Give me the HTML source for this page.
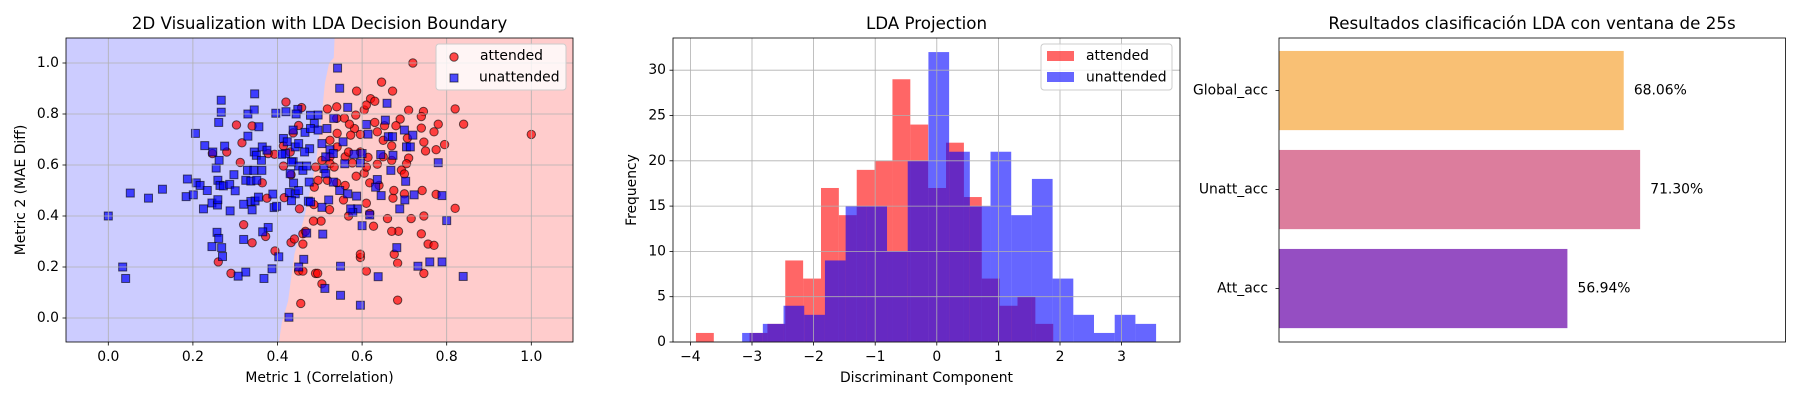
<!DOCTYPE html>
<html><head><meta charset="utf-8"><style>
html,body{margin:0;padding:0;background:#fff;}
svg{display:block;font-family:"DejaVu Sans","Liberation Sans",sans-serif;}
</style></head><body>
<svg id="fig" width="1800" height="400" viewBox="0 0 1800 400" xmlns="http://www.w3.org/2000/svg"></svg>
<script>
// ---------- data ----------
const attended = [[0.72,1.0],[1.0,0.72],[0.646,0.925],[0.587,0.89],[0.672,0.89],[0.62,0.86],[0.63,0.85],[0.82,0.82],[0.71,0.815],[0.745,0.81],[0.84,0.76],[0.78,0.76],[0.74,0.79],[0.69,0.78],[0.74,0.745],[0.77,0.73],[0.795,0.68],[0.775,0.66],[0.75,0.655],[0.746,0.69],[0.707,0.705],[0.67,0.675],[0.71,0.627],[0.705,0.605],[0.693,0.58],[0.7,0.565],[0.742,0.5],[0.775,0.485],[0.82,0.43],[0.746,0.4],[0.716,0.39],[0.74,0.33],[0.756,0.29],[0.77,0.285],[0.746,0.175],[0.684,0.215],[0.676,0.25],[0.684,0.07],[0.686,0.34],[0.67,0.34],[0.66,0.39],[0.627,0.36],[0.673,0.47],[0.7,0.487],[0.675,0.5],[0.64,0.52],[0.61,0.45],[0.618,0.41],[0.596,0.237],[0.596,0.25],[0.61,0.184],[0.503,0.38],[0.485,0.38],[0.46,0.33],[0.466,0.34],[0.46,0.29],[0.45,0.184],[0.46,0.184],[0.49,0.175],[0.495,0.175],[0.505,0.134],[0.455,0.057],[0.486,0.445],[0.523,0.425],[0.54,0.53],[0.56,0.52],[0.568,0.4],[0.556,0.463],[0.586,0.556],[0.605,0.568],[0.618,0.53],[0.614,0.63],[0.636,0.603],[0.65,0.632],[0.67,0.618],[0.65,0.697],[0.636,0.73],[0.596,0.72],[0.582,0.743],[0.573,0.717],[0.57,0.76],[0.558,0.784],[0.54,0.783],[0.54,0.828],[0.518,0.82],[0.585,0.796],[0.605,0.816],[0.61,0.835],[0.63,0.767],[0.653,0.754],[0.68,0.754],[0.541,0.724],[0.524,0.697],[0.541,0.671],[0.524,0.632],[0.56,0.632],[0.505,0.618],[0.49,0.592],[0.524,0.605],[0.518,0.54],[0.496,0.54],[0.487,0.513],[0.534,0.592],[0.577,0.608],[0.568,0.651],[0.596,0.651],[0.61,0.592],[0.42,0.847],[0.457,0.825],[0.303,0.757],[0.34,0.753],[0.316,0.687],[0.28,0.651],[0.246,0.645],[0.312,0.61],[0.364,0.53],[0.375,0.47],[0.416,0.472],[0.452,0.428],[0.34,0.295],[0.372,0.32],[0.32,0.366],[0.26,0.22],[0.29,0.175],[0.394,0.263],[0.432,0.296],[0.44,0.31],[0.414,0.596],[0.432,0.562],[0.393,0.642],[0.45,0.755],[0.414,0.675],[0.43,0.651],[0.437,0.726],[0.378,0.645]];
const unattended = [[0,0.4],[0.034,0.2],[0.041,0.155],[0.052,0.49],[0.095,0.47],[0.128,0.505],[0.187,0.545],[0.184,0.476],[0.201,0.483],[0.208,0.53],[0.217,0.52],[0.234,0.5],[0.225,0.428],[0.245,0.451],[0.258,0.443],[0.259,0.464],[0.259,0.54],[0.264,0.52],[0.272,0.518],[0.287,0.524],[0.3,0.499],[0.288,0.42],[0.297,0.562],[0.255,0.588],[0.262,0.618],[0.247,0.651],[0.228,0.676],[0.275,0.674],[0.206,0.724],[0.261,0.767],[0.267,0.807],[0.267,0.854],[0.33,0.8],[0.346,0.879],[0.345,0.816],[0.356,0.75],[0.33,0.713],[0.345,0.651],[0.35,0.638],[0.364,0.671],[0.375,0.658],[0.362,0.618],[0.329,0.579],[0.344,0.579],[0.325,0.54],[0.337,0.537],[0.351,0.54],[0.363,0.579],[0.389,0.486],[0.392,0.433],[0.398,0.438],[0.337,0.457],[0.347,0.459],[0.34,0.424],[0.32,0.446],[0.355,0.474],[0.378,0.355],[0.365,0.338],[0.32,0.308],[0.257,0.336],[0.261,0.312],[0.245,0.28],[0.268,0.276],[0.27,0.241],[0.325,0.18],[0.307,0.164],[0.368,0.155],[0.387,0.193],[0.403,0.24],[0.427,0.003],[0.396,0.803],[0.42,0.809],[0.448,0.818],[0.444,0.8],[0.478,0.795],[0.496,0.796],[0.487,0.763],[0.465,0.728],[0.437,0.737],[0.414,0.704],[0.423,0.691],[0.419,0.645],[0.41,0.642],[0.442,0.671],[0.45,0.684],[0.476,0.664],[0.478,0.743],[0.496,0.737],[0.464,0.651],[0.437,0.613],[0.45,0.596],[0.46,0.579],[0.469,0.596],[0.433,0.612],[0.43,0.566],[0.438,0.529],[0.428,0.492],[0.442,0.487],[0.45,0.5],[0.433,0.46],[0.475,0.533],[0.473,0.458],[0.542,0.98],[0.547,0.901],[0.659,0.842],[0.655,0.776],[0.566,0.826],[0.533,0.783],[0.517,0.743],[0.505,0.684],[0.524,0.66],[0.555,0.691],[0.61,0.759],[0.614,0.721],[0.662,0.711],[0.7,0.737],[0.72,0.717],[0.705,0.671],[0.714,0.671],[0.672,0.711],[0.644,0.641],[0.673,0.638],[0.6,0.645],[0.581,0.642],[0.596,0.608],[0.559,0.605],[0.532,0.645],[0.514,0.632],[0.51,0.586],[0.514,0.566],[0.532,0.533],[0.668,0.579],[0.703,0.536],[0.636,0.543],[0.632,0.513],[0.78,0.609],[0.789,0.48],[0.8,0.382],[0.723,0.483],[0.701,0.463],[0.689,0.428],[0.645,0.48],[0.618,0.404],[0.6,0.362],[0.587,0.478],[0.589,0.428],[0.578,0.414],[0.573,0.428],[0.566,0.487],[0.547,0.5],[0.521,0.463],[0.505,0.434],[0.478,0.455],[0.469,0.333],[0.507,0.329],[0.462,0.23],[0.45,0.2],[0.512,0.116],[0.549,0.203],[0.549,0.089],[0.596,0.05],[0.638,0.162],[0.682,0.276],[0.732,0.203],[0.76,0.22],[0.789,0.22],[0.839,0.163]];
// decision boundary: [y, x]
const boundary = [[1.1,0.535],[1.02,0.533],[1.0,0.522],[0.92,0.512],[0.8,0.505],[0.6,0.49],[0.4,0.464],[0.25,0.44],[0.066,0.425],[-0.02,0.41],[-0.1,0.403]];
const scatterXTicks = [0,0.2,0.4,0.6,0.8,1.0];
const scatterYTicks = [0,0.2,0.4,0.6,0.8,1.0];

const redStart = -3.91, redWidth = 0.29;
const redCounts = [1,0,0,1,2,9,7,17,14,19,20,29,24,17,22,16,7,4,5,2];
const blueStart = -3.16, blueWidth = 0.336;
const blueCounts = [1,2,4,3,9,15,15,10,20,32,21,15,21,14,18,7,3,1,3,2];
const histXTicks = [-4,-3,-2,-1,0,1,2,3];
const histYTicks = [0,5,10,15,20,25,30];

const accLabels = ["Att_acc","Unatt_acc","Global_acc"];
const accValues = [56.94,71.30,68.06];
const accColors = ["#954ec2","#dc7d9d","#f9c074"];

// ---------- helpers ----------
const NS = "http://www.w3.org/2000/svg";
const svg = document.getElementById("fig");
function mk(tag, attrs, parent){
  const e = document.createElementNS(NS, tag);
  for (const k in attrs) e.setAttribute(k, attrs[k]);
  (parent||svg).appendChild(e);
  return e;
}
function txt(s, x, y, size, anchor, parent, extra){
  const t = mk("text", Object.assign({x:x, y:y, "font-size":size, "text-anchor":anchor||"middle", "dominant-baseline":"central", fill:"#000"}, extra||{}), parent);
  t.textContent = s;
  return t;
}
const fmtMinus = v => (v<0 ? "\u2212"+Math.abs(v) : ""+v);

// ---------- axes 1: scatter ----------
const A1 = {l:66, r:573, t:38, b:342};
const sx = x => 108.3 + x*423;
const sy = y => 318 - y*255;
const clip = mk("clipPath",{id:"c1"});
mk("rect",{x:A1.l,y:A1.t,width:A1.r-A1.l,height:A1.b-A1.t},clip);
const g1 = mk("g",{"clip-path":"url(#c1)"});


const bgBlue = mk("rect",{x:A1.l,y:A1.t,width:A1.r-A1.l,height:A1.b-A1.t,fill:"#ccccff"},g1);


let pts = boundary.map(p => sx(p[1])+","+sy(p[0]));
pts.push(A1.r+","+A1.b); pts.push(A1.r+","+A1.t);
const redReg = mk("polygon",{points:pts.join(" "),fill:"#ffcccc"},g1);


attended.forEach(p=>{
  const c = mk("circle",{cx:sx(p[0]),cy:sy(p[1]),r:4.2,fill:"rgba(255,0,0,0.7)",stroke:"rgba(0,0,0,0.6)","stroke-width":1},g1);
  
  
});
unattended.forEach(p=>{
  const s = mk("rect",{x:sx(p[0])-4,y:sy(p[1])-4,width:8,height:8,fill:"rgba(0,0,255,0.7)",stroke:"rgba(0,0,0,0.6)","stroke-width":1},g1);
  
  
});
scatterXTicks.forEach(v=>{
  const l = mk("line",{x1:sx(v),x2:sx(v),y1:A1.t,y2:A1.b,stroke:"#b0b0b0","stroke-width":0.8});
  
  
  mk("line",{x1:sx(v),x2:sx(v),y1:A1.b,y2:A1.b+3.5,stroke:"#000","stroke-width":0.8});
  const t = txt(v.toFixed(1), sx(v), 357, 13.9);
  
  
});
scatterYTicks.forEach(v=>{
  const l = mk("line",{x1:A1.l,x2:A1.r,y1:sy(v),y2:sy(v),stroke:"#b0b0b0","stroke-width":0.8});
  
  
  mk("line",{x1:A1.l-3.5,x2:A1.l,y1:sy(v),y2:sy(v),stroke:"#000","stroke-width":0.8});
  const t = txt(v.toFixed(1), 59, sy(v), 13.9, "end");
  
  
});
const sp1 = mk("rect",{x:A1.l,y:A1.t,width:A1.r-A1.l,height:A1.b-A1.t,fill:"none",stroke:"#000","stroke-width":0.8});


const t1 = txt("2D Visualization with LDA Decision Boundary", 319.5, 23, 16.7);


const xl1 = txt("Metric 1 (Correlation)", 319.5, 378, 13.9);


const yl1 = txt("Metric 2 (MAE Diff)", 21, 190, 13.9, "middle", null, {transform:"rotate(-90 21 190)"});


// legend 1
const lg1 = mk("g",{});


mk("rect",{x:436,y:44,width:130,height:46,rx:3,fill:"rgba(255,255,255,0.8)",stroke:"#cccccc","stroke-width":1},lg1);
mk("circle",{cx:454,cy:57,r:4.2,fill:"rgba(255,0,0,0.7)",stroke:"rgba(0,0,0,0.6)"},lg1);
mk("rect",{x:450,y:74,width:8,height:8,fill:"rgba(0,0,255,0.7)",stroke:"rgba(0,0,0,0.6)"},lg1);
const le1 = txt("attended", 480, 56, 13.9, "start", lg1);


const le2 = txt("unattended", 479, 77.5, 13.9, "start", lg1);



// ---------- axes 2: histogram ----------
const A2 = {l:673, r:1180, t:38, b:342};
const hx = v => 936.8 + v*61.6;
const hy = c => 342 - c*9.06;
redCounts.forEach((c,i)=>{
  if(!c) return;
  const x0 = redStart + i*redWidth;
  const r = mk("rect",{x:hx(x0),y:hy(c),width:hx(x0+redWidth)-hx(x0),height:hy(0)-hy(c),fill:"rgba(255,0,0,0.6)"});
  
  
});
blueCounts.forEach((c,i)=>{
  if(!c) return;
  const x0 = blueStart + i*blueWidth;
  const r = mk("rect",{x:hx(x0),y:hy(c),width:hx(x0+blueWidth)-hx(x0),height:hy(0)-hy(c),fill:"rgba(0,0,255,0.6)"});
  
  
});
histXTicks.forEach(v=>{
  const l = mk("line",{x1:hx(v),x2:hx(v),y1:A2.t,y2:A2.b,stroke:"#b0b0b0","stroke-width":0.8});
  
  
  mk("line",{x1:hx(v),x2:hx(v),y1:A2.b,y2:A2.b+3.5,stroke:"#000","stroke-width":0.8});
  const t = txt(fmtMinus(v), hx(v), 357, 13.9);
  
  
});
histYTicks.forEach(v=>{
  const l = mk("line",{x1:A2.l,x2:A2.r,y1:hy(v),y2:hy(v),stroke:"#b0b0b0","stroke-width":0.8});
  
  
  mk("line",{x1:A2.l-3.5,x2:A2.l,y1:hy(v),y2:hy(v),stroke:"#000","stroke-width":0.8});
  const t = txt(""+v, 666, hy(v), 13.9, "end");
  
  
});
const sp2 = mk("rect",{x:A2.l,y:A2.t,width:A2.r-A2.l,height:A2.b-A2.t,fill:"none",stroke:"#000","stroke-width":0.8});


const t2 = txt("LDA Projection", 926.5, 23, 16.7);


const xl2 = txt("Discriminant Component", 926.5, 378, 13.9);


const yl2 = txt("Frequency", 632, 190, 13.9, "middle", null, {transform:"rotate(-90 632 190)"});


const lg2 = mk("g",{});


mk("rect",{x:1041,y:44,width:131,height:46,rx:3,fill:"rgba(255,255,255,0.8)",stroke:"#cccccc","stroke-width":1},lg2);
mk("rect",{x:1047,y:51,width:27,height:10,fill:"rgba(255,0,0,0.6)"},lg2);
mk("rect",{x:1047,y:72,width:27,height:10,fill:"rgba(0,0,255,0.6)"},lg2);
const le3 = txt("attended", 1086, 56, 13.9, "start", lg2);


const le4 = txt("unattended", 1086, 77.5, 13.9, "start", lg2);



// ---------- axes 3: accuracy bars ----------
const A3 = {l:1279, r:1785.5, t:38, b:342};
const bx = v => 1279 + v*5.065;
const by = i => 342 - (i+0.54)*99;
accValues.forEach((v,i)=>{
  const r = mk("rect",{x:bx(0),y:by(i)-39.6,width:bx(v)-bx(0),height:79.2,fill:accColors[i]});
  
  
  const t = txt(v.toFixed(2)+"%", bx(v+2), by(i), 13.9, "start");
  
  
  mk("line",{x1:A3.l-3.5,x2:A3.l,y1:by(i),y2:by(i),stroke:"#000","stroke-width":0.8});
  const yl = txt(accLabels[i], 1268, by(i), 13.9, "end");
  
  
});
const sp3 = mk("rect",{x:A3.l,y:A3.t,width:A3.r-A3.l,height:A3.b-A3.t,fill:"none",stroke:"#000","stroke-width":0.8});


const t3 = txt("Resultados clasificación LDA con ventana de 25s", 1532, 23, 16.7);


</script>
</body></html>
